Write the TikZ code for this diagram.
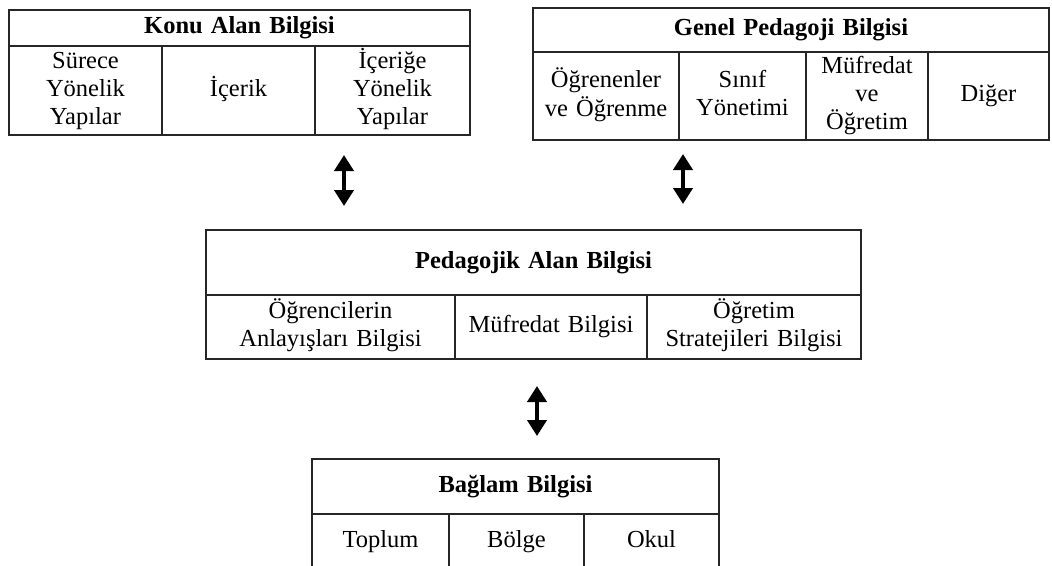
\documentclass[tikz,border=0pt]{standalone}
\usepackage{fontspec}
\setmainfont{Liberation Serif}
\usepackage{tikz}
\usetikzlibrary{
  arrows.meta,
  positioning
}
\tikzset{
  every cell/.style={draw=black!85,line width=1.2pt,inner sep=0pt,outer sep=0pt,
    align=center,font=\fontsize{24.5}{28}\selectfont,
    execute at begin node=\strut,execute at end node=\strut},
  cell/.style 2 args={every cell,text width=#1,minimum height=#2},
  head/.style 2 args={cell={#1}{#2},font=\fontsize{24.5}{28}\selectfont\bfseries},
  link/.style={line width=4.5pt,<->,>={Triangle[width=19pt,length=16pt]}},
}

\begin{document}
\begin{tikzpicture}[
  x=1pt,y=-1pt,
  every node/.append style={anchor=north west},
]
\useasboundingbox (0,0) rectangle (1052,565);
\clip (0,0) rectangle (1052,565);

% Konu Alan Bilgisi
\node[head={461pt}{36pt}] (konu) at (9,10) {Konu Alan Bilgisi};
\node[cell={153pt}{89pt}] (konu-a) at (konu.south west) {Sürece\\Yönelik\\Yapılar};
\node[cell={153pt}{89pt},right=0pt of konu-a] (konu-b) {İçerik};
\node[cell={155pt}{89pt},right=0pt of konu-b] (konu-c) {İçeriğe\\Yönelik\\Yapılar};

% Genel Pedagoji Bilgisi
\node[head={516pt}{44pt}] (genel) at (533,8) {Genel Pedagoji Bilgisi};
\node[cell={146pt}{88pt}] (genel-a) at (genel.south west) {Öğrenenler\\ve Öğrenme};
\node[cell={127pt}{88pt},right=0pt of genel-a] (genel-b) {Sınıf\\Yönetimi};
\node[cell={122pt}{88pt},right=0pt of genel-b] (genel-c) {Müfredat\\ve\\Öğretim};
\node[cell={121pt}{88pt},right=0pt of genel-c] (genel-d) {Diğer};

% Pedagojik Alan Bilgisi
\node[head={655pt}{65pt}] (pab) at (206,230) {Pedagojik Alan Bilgisi};
\node[cell={249pt}{64pt}] (pab-a) at (pab.south west) {Öğrencilerin\\Anlayışları Bilgisi};
\node[cell={192pt}{64pt},right=0pt of pab-a] (pab-b) {Müfredat Bilgisi};
\node[cell={214pt}{64pt},right=0pt of pab-b] (pab-c) {Öğretim\\Stratejileri Bilgisi};

% Bağlam Bilgisi
\node[head={407pt}{55pt}] (baglam) at (312,459) {Bağlam Bilgisi};
\node[cell={137pt}{56pt}] (baglam-a) at (baglam.south west) {Toplum};
\node[cell={135pt}{56pt},right=0pt of baglam-a] (baglam-b) {Bölge};
\node[cell={135pt}{56pt},right=0pt of baglam-b] (baglam-c) {Okul};

% arrows
\coordinate (konu-top) at (344,155);
\coordinate (konu-bot) at (344,206);
\coordinate (genel-top) at (683,154);
\coordinate (genel-bot) at (683,204);
\coordinate (baglam-top) at (537,386);
\coordinate (baglam-bot) at (537,436);
\draw[link] (konu-top) -- (konu-bot);
\draw[link] (genel-top) -- (genel-bot);
\draw[link] (baglam-top) -- (baglam-bot);
\end{tikzpicture}
\end{document}
